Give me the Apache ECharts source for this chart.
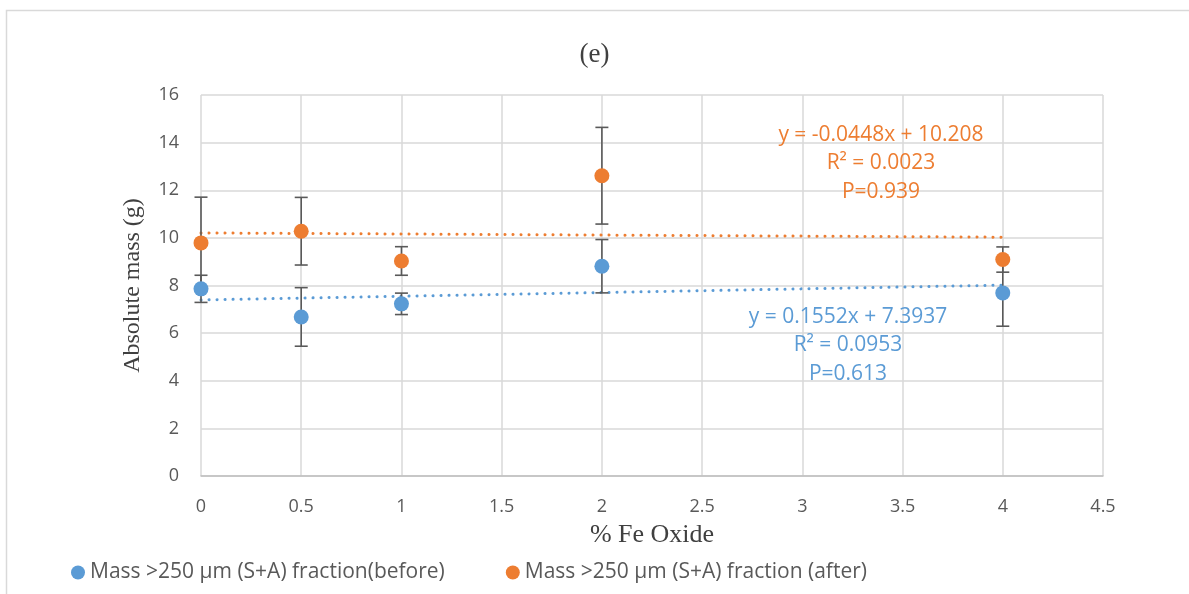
<!DOCTYPE html>
<html><head><meta charset="utf-8">
<script src="https://cdn.jsdelivr.net/npm/echarts@6/dist/echarts.min.js"></script>
<style>html,body{margin:0;padding:0;background:#fff}#c{width:1189px;height:594px}</style>
</head><body><div id="c"></div>
<script>
const xValues = [0, 0.5, 1, 2, 4];
const beforeMass = [7.86, 6.68, 7.23, 8.81, 7.69];
const beforeErr = [0.57, 1.23, 0.45, 1.12, 1.40];
const afterMass = [9.79, 10.28, 9.03, 12.61, 9.09];
const afterErr = [1.92, 1.42, 0.60, 2.03, 0.53];
const beforeFit = [0.1552, 7.3937];
const afterFit = [-0.0448, 10.208];
const beforeLabel = ['y = 0.1552x + 7.3937', 'R² = 0.0953', 'P=0.613'];
const afterLabel = ['y = -0.0448x + 10.208', 'R² = 0.0023', 'P=0.939'];
const xTicks = ['0','0.5','1','1.5','2','2.5','3','3.5','4','4.5'];
const seriesNames = ['Mass >250 µm (S+A) fraction(before)', 'Mass >250 µm (S+A) fraction (after)'];

const BLUE = '#5b9bd5', ORANGE = '#ed7d31', GRAY = '#595959';
const chart = echarts.init(document.getElementById('c'));

function errData(vals, errs){ return xValues.map((x,i)=>[x, vals[i]-errs[i], vals[i]+errs[i]]); }
function fitLine(c){ const xs=[xValues[0], xValues[xValues.length-1]]; return xs.map(x=>[x, c[0]*x+c[1]]); }
function renderErr(params, api){
  const x = api.value(0), lo = api.value(1), hi = api.value(2);
  const p1 = api.coord([x, hi]), p2 = api.coord([x, lo]);
  const hw = 6.5;
  const st = {stroke: GRAY, lineWidth: 1.6};
  return {type:'group', children:[
    {type:'line', shape:{x1:p1[0], y1:p1[1], x2:p2[0], y2:p2[1]}, style:st},
    {type:'line', shape:{x1:p1[0]-hw, y1:p1[1], x2:p1[0]+hw, y2:p1[1]}, style:st},
    {type:'line', shape:{x1:p2[0]-hw, y1:p2[1], x2:p2[0]+hw, y2:p2[1]}, style:st}
  ]};
}
const dotted = (c)=>({color:c, width:3, type:[0.1, 7.9], cap:'round'});

chart.setOption({
  animation:false,
  grid:{left:201, right:86, top:95, bottom:118},
  xAxis:{type:'value', min:0, max:4.5, interval:0.5,
    axisLine:{show:true, onZero:false, lineStyle:{color:'#bfbfbf', width:1.5}},
    axisTick:{show:false},
    splitLine:{show:true, lineStyle:{color:'#d9d9d9', width:1.5}},
    axisLabel:{color:GRAY, fontFamily:'Open Sans', fontSize:18, margin:22,
      formatter:(v)=>{ const i=Math.round(v/0.5); return xTicks[i]; }},
    name:'% Fe Oxide', nameLocation:'middle', nameGap:46,
    nameTextStyle:{fontFamily:'Liberation Serif', fontSize:26, color:'#404040'}
  },
  yAxis:{type:'value', min:0, max:16, interval:2,
    axisLine:{show:false}, axisTick:{show:false},
    splitLine:{show:true, lineStyle:{color:'#d9d9d9', width:1.5}},
    axisLabel:{color:GRAY, fontFamily:'Open Sans', fontSize:18, margin:22},
    name:'Absolute mass (g)', nameLocation:'middle', nameGap:56,
    nameTextStyle:{fontFamily:'Liberation Serif', fontSize:24, color:'#404040'}
  },
  legend:{bottom:6, left:66, itemGap:61, icon:'circle', itemWidth:14, itemHeight:14,
    textStyle:{color:GRAY, fontFamily:'Open Sans', fontSize:21},
    data:[{name:seriesNames[0]},{name:seriesNames[1]}]},
  title:{text:'(e)', left:'center', top:36,
    textStyle:{fontFamily:'Liberation Serif', fontSize:27, fontWeight:'normal', color:'#404040'}},
  graphic:[
    {type:'rect', shape:{x:6.5, y:10.5, width:1300, height:700}, style:{fill:'none', stroke:'#d9d9d9', lineWidth:1.5}, silent:true, z:-10},
    {type:'text', x:881, y:120.5, z:100, style:{text:afterLabel.join('\n'), fill:ORANGE, font:'21px "Open Sans"', align:'center', lineHeight:28.5}},
    {type:'text', x:848, y:302.5, z:100, style:{text:beforeLabel.join('\n'), fill:BLUE, font:'21px "Open Sans"', align:'center', lineHeight:28.5}}
  ],
  series:[
    {type:'line', data:fitLine(beforeFit), showSymbol:false, lineStyle:dotted(BLUE), z:2, silent:true},
    {type:'line', data:fitLine(afterFit), showSymbol:false, lineStyle:dotted(ORANGE), z:2, silent:true},
    {type:'custom', renderItem:renderErr, data:errData(beforeMass, beforeErr), z:3, encode:{x:0, y:[1,2]}},
    {type:'custom', renderItem:renderErr, data:errData(afterMass, afterErr), z:3, encode:{x:0, y:[1,2]}},
    {name:seriesNames[0], type:'scatter', symbolSize:15, itemStyle:{color:BLUE, opacity:1}, data:xValues.map((x,i)=>[x, beforeMass[i]]), z:5},
    {name:seriesNames[1], type:'scatter', symbolSize:15, itemStyle:{color:ORANGE, opacity:1}, data:xValues.map((x,i)=>[x, afterMass[i]]), z:5}
  ]
});
</script></body></html>
